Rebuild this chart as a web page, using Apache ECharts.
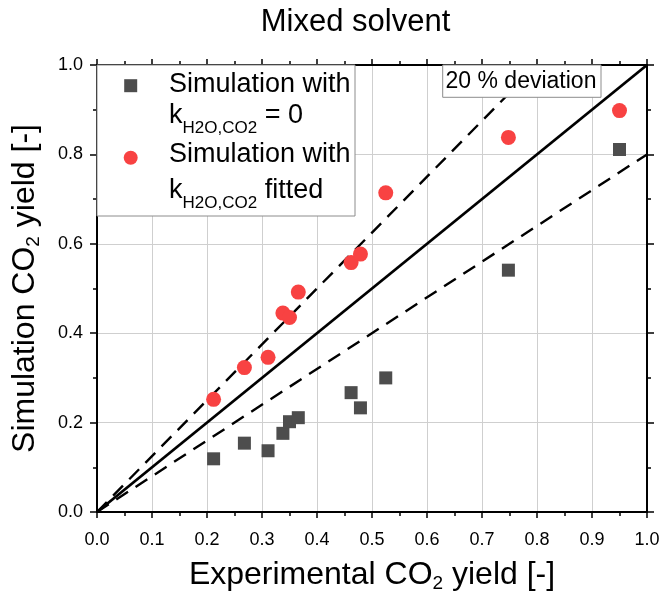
<!DOCTYPE html>
<html>
<head>
<meta charset="utf-8">
<script src="https://cdn.jsdelivr.net/npm/echarts@6/dist/echarts.min.js"></script>
<style>html,body{margin:0;padding:0;background:#fff;}#c{width:662px;height:591px;}</style>
</head>
<body>
<div id="c"></div>
<script>
// ---- data ----
const expYield      = [0.212, 0.268, 0.311, 0.338, 0.350, 0.366, 0.462, 0.479, 0.525, 0.748, 0.950];
const simKZero      = [0.119, 0.154, 0.137, 0.176, 0.202, 0.211, 0.267, 0.233, 0.300, 0.541, 0.811];
const simKFitted    = [0.252, 0.323, 0.346, 0.445, 0.435, 0.492, 0.558, 0.577, 0.714, 0.838, 0.898];
const parityX = [0, 1],   parityY = [0, 1];
const upperX  = [0, 0.8], upperY  = [0, 1.0];
const lowerX  = [0, 1],   lowerY  = [0, 0.8];
const xTickLabels = ['0.0','0.1','0.2','0.3','0.4','0.5','0.6','0.7','0.8','0.9','1.0'];
const yTickLabels = ['0.0','0.2','0.4','0.6','0.8','1.0'];
const titleText = 'Mixed solvent';
const seriesNames = ['Simulation with k_H2O,CO2 = 0', 'Simulation with k_H2O,CO2 fitted'];

const F = '"Liberation Sans", Arial, sans-serif';
const zip = (a, b) => a.map((v, i) => [v, b[i]]);

const chart = echarts.init(document.getElementById('c'), null, {renderer: 'canvas'});

const tickStyle = {color: '#000', width: 1.5};
function mkX(pos, labels) {
  return {
    type: 'value', min: 0, max: 1, interval: 0.1, position: pos,
    axisLine: {show: true, onZero: false, lineStyle: {color: '#000', width: 2}},
    axisTick: {show: true, inside: false, length: 6, lineStyle: tickStyle},
    minorTick: {show: true, splitNumber: 2, length: 4, lineStyle: tickStyle},
    splitLine: {show: pos === 'bottom', lineStyle: {color: '#cfcfcf', width: 1}},
    axisLabel: {show: labels, fontSize: 18, color: '#000', margin: 19, fontFamily: F,
      formatter: v => xTickLabels[Math.round(v * 10)]}
  };
}
function mkY(pos, labels) {
  return {
    type: 'value', min: 0, max: 1, interval: 0.2, position: pos,
    axisLine: {show: true, onZero: false, lineStyle: {color: '#000', width: 2}},
    axisTick: {show: true, inside: false, length: 7, lineStyle: tickStyle},
    minorTick: {show: true, splitNumber: 2, length: 4, lineStyle: tickStyle},
    splitLine: {show: pos === 'left', lineStyle: {color: '#cfcfcf', width: 1}},
    axisLabel: {show: labels, fontSize: 18, color: '#000', margin: 14, fontFamily: F,
      formatter: v => yTickLabels[Math.round(v * 5)]}
  };
}
const nameRich = {
  m: {fontSize: 32, lineHeight: 32, verticalAlign: 'top', fontFamily: F, color: '#000'},
  s: {fontSize: 19, lineHeight: 19, verticalAlign: 'top', padding: [15, 0, 0, 0], fontFamily: F, color: '#000'}
};
const xA = mkX('bottom', true);
xA.name = '{m|Experimental CO}{s|2}{m| yield [-]}';
xA.nameLocation = 'middle'; xA.nameGap = 47;
xA.nameTextStyle = {fontFamily: F, fontSize: 32, color: '#000', rich: nameRich};
const yA = mkY('left', true);
yA.name = '{m|Simulation CO}{s|2}{m| yield [-]}';
yA.nameLocation = 'middle'; yA.nameGap = 56;
yA.nameTextStyle = {fontFamily: F, fontSize: 32, color: '#000', rich: nameRich};

const legRich = {
  m: {fontSize: 27, lineHeight: 30, verticalAlign: 'top', fontFamily: F, fill: '#000'},
  s: {fontSize: 17, lineHeight: 17, verticalAlign: 'top', padding: [18, 0, 0, 0], fontFamily: F, fill: '#000'}
};
function legText(y, txt) {
  return {type: 'text', x: 169, y: y, z: 102,
    style: {text: txt, rich: legRich, fill: '#000', font: '27px ' + F, align: 'left', verticalAlign: 'top'}};
}

chart.setOption({
  animation: false,
  backgroundColor: '#fff',
  grid: {left: 97, right: 15, top: 65, bottom: 79, containLabel: false, outerBoundsMode: 'none'},
  xAxis: [xA, mkX('top', false)],
  yAxis: [yA, mkY('right', false)],
  series: [
    {type: 'line', data: zip(upperX, upperY), symbol: 'none', z: 3,
      lineStyle: {color: '#000', width: 2.4, type: [14, 9]}},
    {type: 'line', data: zip(lowerX, lowerY), symbol: 'none', z: 3,
      lineStyle: {color: '#000', width: 2.4, type: [14, 9]}},
    {type: 'line', data: zip(parityX, parityY), symbol: 'none', z: 3,
      lineStyle: {color: '#000', width: 2.8}},
    {name: seriesNames[0], type: 'scatter', data: zip(expYield, simKZero), symbol: 'rect', symbolSize: 13, z: 5,
      itemStyle: {color: '#4d4d4d', opacity: 1}},
    {name: seriesNames[1], type: 'scatter', data: zip(expYield, simKFitted), symbol: 'circle', symbolSize: 15, z: 6,
      itemStyle: {color: '#f84242', opacity: 1}}
  ],
  graphic: [
    {type: 'text', x: 355.5, y: 22, z: 100,
      style: {text: titleText, font: '31px ' + F, fill: '#000', align: 'center', verticalAlign: 'middle'}},
    // legend box
    {type: 'rect', z: 100, shape: {x: 97, y: 65, width: 258, height: 151},
      style: {fill: '#fff', stroke: '#8c8c8c', lineWidth: 1}},
    {type: 'rect', z: 102, shape: {x: 124.2, y: 79.2, width: 13, height: 13},
      style: {fill: '#4d4d4d'}},
    {type: 'circle', z: 102, shape: {cx: 130.7, cy: 157.7, r: 7},
      style: {fill: '#f84242'}},
    legText(70.6, '{m|Simulation with}'),
    legText(102.3, '{m|k}{s|H2O,CO2}{m| = 0}'),
    legText(140.6, '{m|Simulation with}'),
    legText(177.3, '{m|k}{s|H2O,CO2}{m| fitted}'),
    // deviation label
    {type: 'rect', z: 100, shape: {x: 442.7, y: 65, width: 158.3, height: 32.3},
      style: {fill: '#fff', stroke: '#8c8c8c', lineWidth: 1}},
    {type: 'text', x: 521, y: 82, z: 102,
      style: {text: '20 % deviation', font: '23px ' + F, fill: '#000', align: 'center', verticalAlign: 'middle'}}
  ]
});
</script>
</body>
</html>
